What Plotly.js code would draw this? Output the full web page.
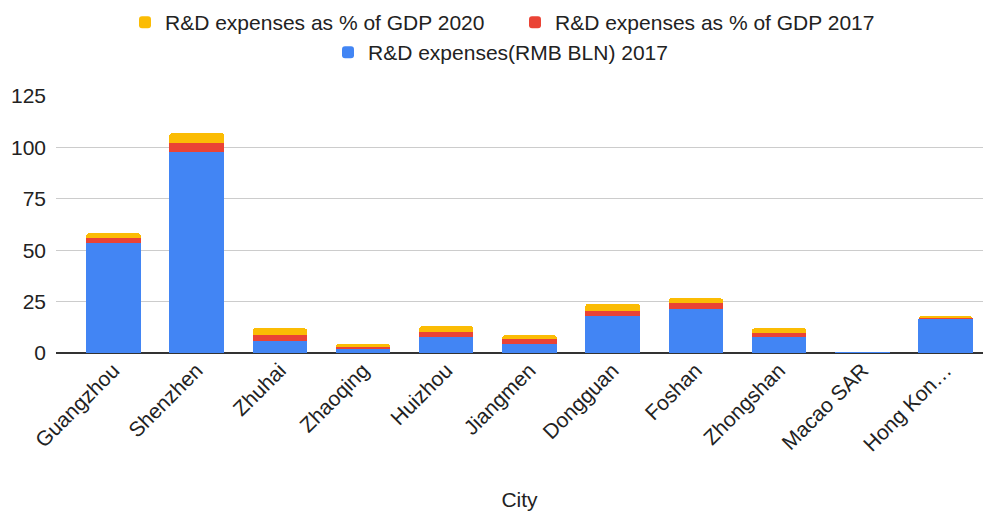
<!DOCTYPE html>
<html>
<head>
<meta charset="utf-8">
<script src="https://cdn.plot.ly/plotly-3.0.1.min.js"></script>
<style>html,body{margin:0;padding:0;background:#fff;}#chart{width:989px;height:511px;}</style>
</head>
<body>
<div id="chart"></div>
<script>
const cities = ["Guangzhou", "Shenzhen", "Zhuhai", "Zhaoqing", "Huizhou", "Jiangmen", "Dongguan", "Foshan", "Zhongshan", "Macao SAR", "Hong Kon…"];
const rdExpenses2017 = [53.4, 97.9, 6.0, 2.1, 7.9, 4.4, 18.1, 21.4, 7.8, 0.3, 16.4];
const rdPctGdp2017 = [2.4, 4.1, 2.6, 0.8, 2.5, 2.6, 2.5, 2.8, 1.8, 0.05, 0.8];
const rdPctGdp2020 = [2.4, 5.0, 3.4, 1.5, 2.6, 1.6, 3.4, 2.4, 2.4, 0.05, 0.8];
const yTicks = [0, 25, 50, 75, 100, 125];
const seriesNames = ["R&D expenses(RMB BLN) 2017", "R&D expenses as % of GDP 2017", "R&D expenses as % of GDP 2020"];

const font = "Liberation Sans, Arial, sans-serif";
const fs = 21;
const traces = [
  {type: "bar", x: cities, y: rdExpenses2017, name: seriesNames[0], marker: {color: "#4285F4"}, legend: "legend2", legendrank: 3},
  {type: "bar", x: cities, y: rdPctGdp2017, name: seriesNames[1], marker: {color: "#EA4335"}, legend: "legend", legendrank: 2},
  {type: "bar", x: cities, y: rdPctGdp2020, name: seriesNames[2], marker: {color: "#FBBC04"}, legend: "legend", legendrank: 1}
];

const layout = {
  width: 989, height: 511,
  margin: {l: 56, r: 6, t: 96, b: 158},
  paper_bgcolor: "#fff", plot_bgcolor: "#fff",
  font: {family: font, size: fs, color: "#222"},
  barmode: "stack",
  bargap: 0.346,
  barcornerradius: 3,
  hovermode: false,
  xaxis: {
    type: "category",
    range: [-0.69, 10.45],
    tickangle: -45,
    ticks: "",
    showgrid: false,
    showline: false,
    zeroline: false,
    tickfont: {size: fs, color: "#222"},
    title: {text: "City", font: {size: fs, color: "#222"}, standoff: 38},
    automargin: false
  },
  yaxis: {
    range: [0, 125],
    tickvals: yTicks,
    ticktext: yTicks.map(String),
    showgrid: true,
    gridcolor: "#cccccc",
    gridwidth: 1,
    zeroline: true,
    zerolinecolor: "#333333",
    zerolinewidth: 1.5,
    ticks: "",
    ticklabelstandoff: 9,
    tickfont: {size: fs, color: "#222"},
    automargin: false
  },
  legend: {
    orientation: "h",
    xref: "container", yref: "container",
    x: 125 / 989, y: 1 - 2 / 511,
    xanchor: "left", yanchor: "top",
    entrywidth: 345, entrywidthmode: "pixels",
    font: {size: fs, color: "#222"},
    traceorder: "normal",
    bgcolor: "rgba(0,0,0,0)"
  },
  legend2: {
    orientation: "h",
    xref: "container", yref: "container",
    x: 328 / 989, y: 1 - 32 / 511,
    xanchor: "left", yanchor: "top",
    font: {size: fs, color: "#222"},
    bgcolor: "rgba(0,0,0,0)"
  }
};

Plotly.newPlot("chart", traces, layout, {displayModeBar: false, staticPlot: true});
</script>
</body>
</html>
